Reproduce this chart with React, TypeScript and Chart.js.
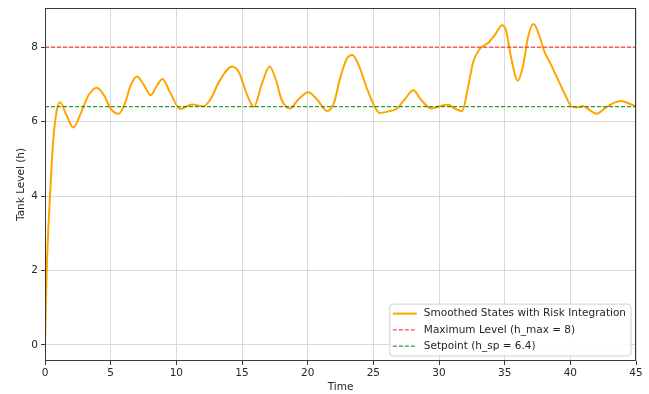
import React, { useEffect, useRef } from "react";
import { Chart, registerables } from "chart.js";

Chart.register(...registerables);

// Tank level trajectory (time, smoothed level)
const times = [
  0, 0.13, 0.38, 0.65, 0.9, 1.15, 1.6, 2.15, 2.7, 3.3, 3.95, 4.5, 5.0, 5.6, 6.1, 6.5, 7.0, 7.5, 8.05, 8.5,
  8.95, 9.5, 10.3, 11.2, 12.05, 12.6, 13.3, 14.25, 14.8, 15.3, 15.9, 16.5, 17.1, 17.6, 18.0, 18.65, 19.3,
  20.05, 20.7, 21.5, 22.0, 22.5, 23.0, 23.4, 23.9, 24.5, 25.1, 25.5, 26.2, 26.8, 27.4, 28.05, 28.6, 29.4,
  30.1, 30.7, 31.2, 31.75, 32.2, 32.6, 33.1, 33.8, 34.3, 34.8, 35.1, 35.5, 36.0, 36.4, 36.8, 37.2, 37.6,
  38.0, 38.5, 39.2, 39.7, 40.1, 40.5, 41.0, 41.5, 42.0, 42.6, 43.3, 43.9, 44.5, 45.0,
];
const levels = [
  0, 2.0, 4.0, 5.6, 6.3, 6.52, 6.2, 5.84, 6.2, 6.7, 6.91, 6.7, 6.35, 6.21, 6.5, 6.95, 7.21, 7.0, 6.71, 6.95,
  7.14, 6.8, 6.34, 6.46, 6.41, 6.6, 7.1, 7.48, 7.3, 6.8, 6.39, 7.0, 7.48, 7.1, 6.6, 6.35, 6.6,
  6.79, 6.6, 6.28, 6.5, 7.2, 7.7, 7.79, 7.5, 6.9, 6.4, 6.23, 6.28, 6.35, 6.6, 6.84, 6.6, 6.35,
  6.42, 6.45, 6.35, 6.28, 6.9, 7.6, 7.95, 8.13, 8.35, 8.59, 8.45, 7.7, 7.1, 7.5, 8.3, 8.62, 8.35,
  7.9, 7.55, 7.02, 6.65, 6.4, 6.38, 6.41, 6.3, 6.21, 6.35, 6.5, 6.55, 6.48, 6.41,
];

const hMax = 8;
const hSp = 6.4;
const timeRange = [0, 45];
const levelRange = [-0.43, 9.05];
const xTicks = [0, 5, 10, 15, 20, 25, 30, 35, 40, 45];
const yTicks = [0, 2, 4, 6, 8];

const seriesLabels = [
  "Smoothed States with Risk Integration",
  "Maximum Level (h_max = 8)",
  `Setpoint (h_sp = ${hSp})`,
];

const FONT = "'DejaVu Sans', sans-serif";
const FONT_SIZE = 10.5;
const TEXT = "#262626";

// Frame around the plot area plus a legend box in the lower right corner
const framePlugin = {
  id: "frameAndLegend",
  afterDraw(chart: any) {
    const { ctx, chartArea } = chart;
    ctx.save();
    ctx.strokeStyle = "#3a3a3a";
    ctx.lineWidth = 1;
    ctx.strokeRect(chartArea.left + 0.5, chartArea.top + 0.5, chartArea.width - 1, chartArea.height - 1);

    const ds = chart.data.datasets;
    ctx.font = `${FONT_SIZE}px ${FONT}`;
    let maxW = 0;
    ds.forEach((d: any) => (maxW = Math.max(maxW, ctx.measureText(d.label).width)));
    const rowH = 16.3;
    const boxW = 3 + 24 + 7 + maxW + 5;
    const boxH = ds.length * rowH + 3;
    const bx = chartArea.right - 5 - boxW;
    const by = chartArea.bottom - 5 - boxH;
    const r = 3;
    ctx.beginPath();
    ctx.moveTo(bx + r, by);
    ctx.arcTo(bx + boxW, by, bx + boxW, by + boxH, r);
    ctx.arcTo(bx + boxW, by + boxH, bx, by + boxH, r);
    ctx.arcTo(bx, by + boxH, bx, by, r);
    ctx.arcTo(bx, by, bx + boxW, by, r);
    ctx.closePath();
    ctx.fillStyle = "rgba(255,255,255,0.85)";
    ctx.fill();
    ctx.strokeStyle = "#d0d0d0";
    ctx.stroke();

    ds.forEach((d: any, i: number) => {
      const cy = by + 9.5 + i * rowH;
      ctx.beginPath();
      ctx.strokeStyle = d.borderColor;
      ctx.lineWidth = d.borderWidth;
      ctx.setLineDash(d.borderDash || []);
      ctx.moveTo(bx + 3, cy);
      ctx.lineTo(bx + 27, cy);
      ctx.stroke();
      ctx.setLineDash([]);
      ctx.fillStyle = TEXT;
      ctx.textBaseline = "middle";
      ctx.textAlign = "left";
      ctx.fillText(d.label, bx + 34, cy);
    });
    ctx.restore();
  },
};

export default function App() {
  const ref = useRef<HTMLCanvasElement>(null);

  useEffect(() => {
    if (!ref.current) return;
    const levelPoints = times.map((t, i) => ({ x: t, y: levels[i] }));
    const hline = (v: number) => [
      { x: timeRange[0], y: v },
      { x: timeRange[1], y: v },
    ];

    const chart = new Chart(ref.current, {
      type: "line",
      data: {
        datasets: [
          {
            label: seriesLabels[0],
            data: levelPoints,
            borderColor: "#FFA500",
            borderWidth: 2,
            pointRadius: 0,
            cubicInterpolationMode: "monotone",
            fill: false,
            order: 2,
          },
          {
            label: seriesLabels[1],
            data: hline(hMax),
            borderColor: "rgba(255,0,0,0.7)",
            borderWidth: 1.2,
            borderDash: [4, 2],
            pointRadius: 0,
            fill: false,
            order: 1,
          },
          {
            label: seriesLabels[2],
            data: hline(hSp),
            borderColor: "rgba(0,128,0,0.8)",
            borderWidth: 1.2,
            borderDash: [4, 2],
            pointRadius: 0,
            fill: false,
            order: 0,
          },
        ],
      },
      options: {
        responsive: false,
        animation: false,
        layout: { padding: { left: 0, right: 13, top: 8, bottom: 0 } },
        plugins: { legend: { display: false }, tooltip: { enabled: false } },
        scales: {
          x: {
            type: "linear",
            min: timeRange[0],
            max: timeRange[1],
            afterBuildTicks: (s: any) => {
              s.ticks = xTicks.map((v) => ({ value: v }));
            },
            afterFit: (s: any) => {
              s.height = 33;
              s.paddingLeft = 0;
              s.paddingRight = 0;
            },
            grid: { color: "#d9d9d9", lineWidth: 1, tickLength: 4, tickColor: "#3a3a3a" },
            border: { display: false },
            ticks: { font: { family: FONT, size: FONT_SIZE }, color: TEXT, padding: 2, maxRotation: 0 },
            title: {
              display: true,
              text: "Time",
              font: { family: FONT, size: FONT_SIZE },
              color: TEXT,
              padding: { top: 0, bottom: 0 },
            },
          },
          y: {
            type: "linear",
            min: levelRange[0],
            max: levelRange[1],
            afterBuildTicks: (s: any) => {
              s.ticks = yTicks.map((v) => ({ value: v }));
            },
            afterFit: (s: any) => {
              s.width = 45;
              s.paddingTop = 0;
              s.paddingBottom = 0;
            },
            grid: { color: "#d9d9d9", lineWidth: 1, tickLength: 4, tickColor: "#3a3a3a" },
            border: { display: false },
            ticks: { font: { family: FONT, size: FONT_SIZE }, color: TEXT, padding: 3 },
            title: {
              display: true,
              text: "Tank Level (h)",
              font: { family: FONT, size: FONT_SIZE },
              color: TEXT,
              padding: { top: 15, bottom: 0 },
            },
          },
        },
      },
      plugins: [framePlugin],
    } as any);
    return () => chart.destroy();
  }, []);

  return (
    <div style={{ position: "absolute", left: 0, top: 0, width: 649, height: 394, background: "#fff" }}>
      <canvas ref={ref} width={649} height={394} />
    </div>
  );
}
